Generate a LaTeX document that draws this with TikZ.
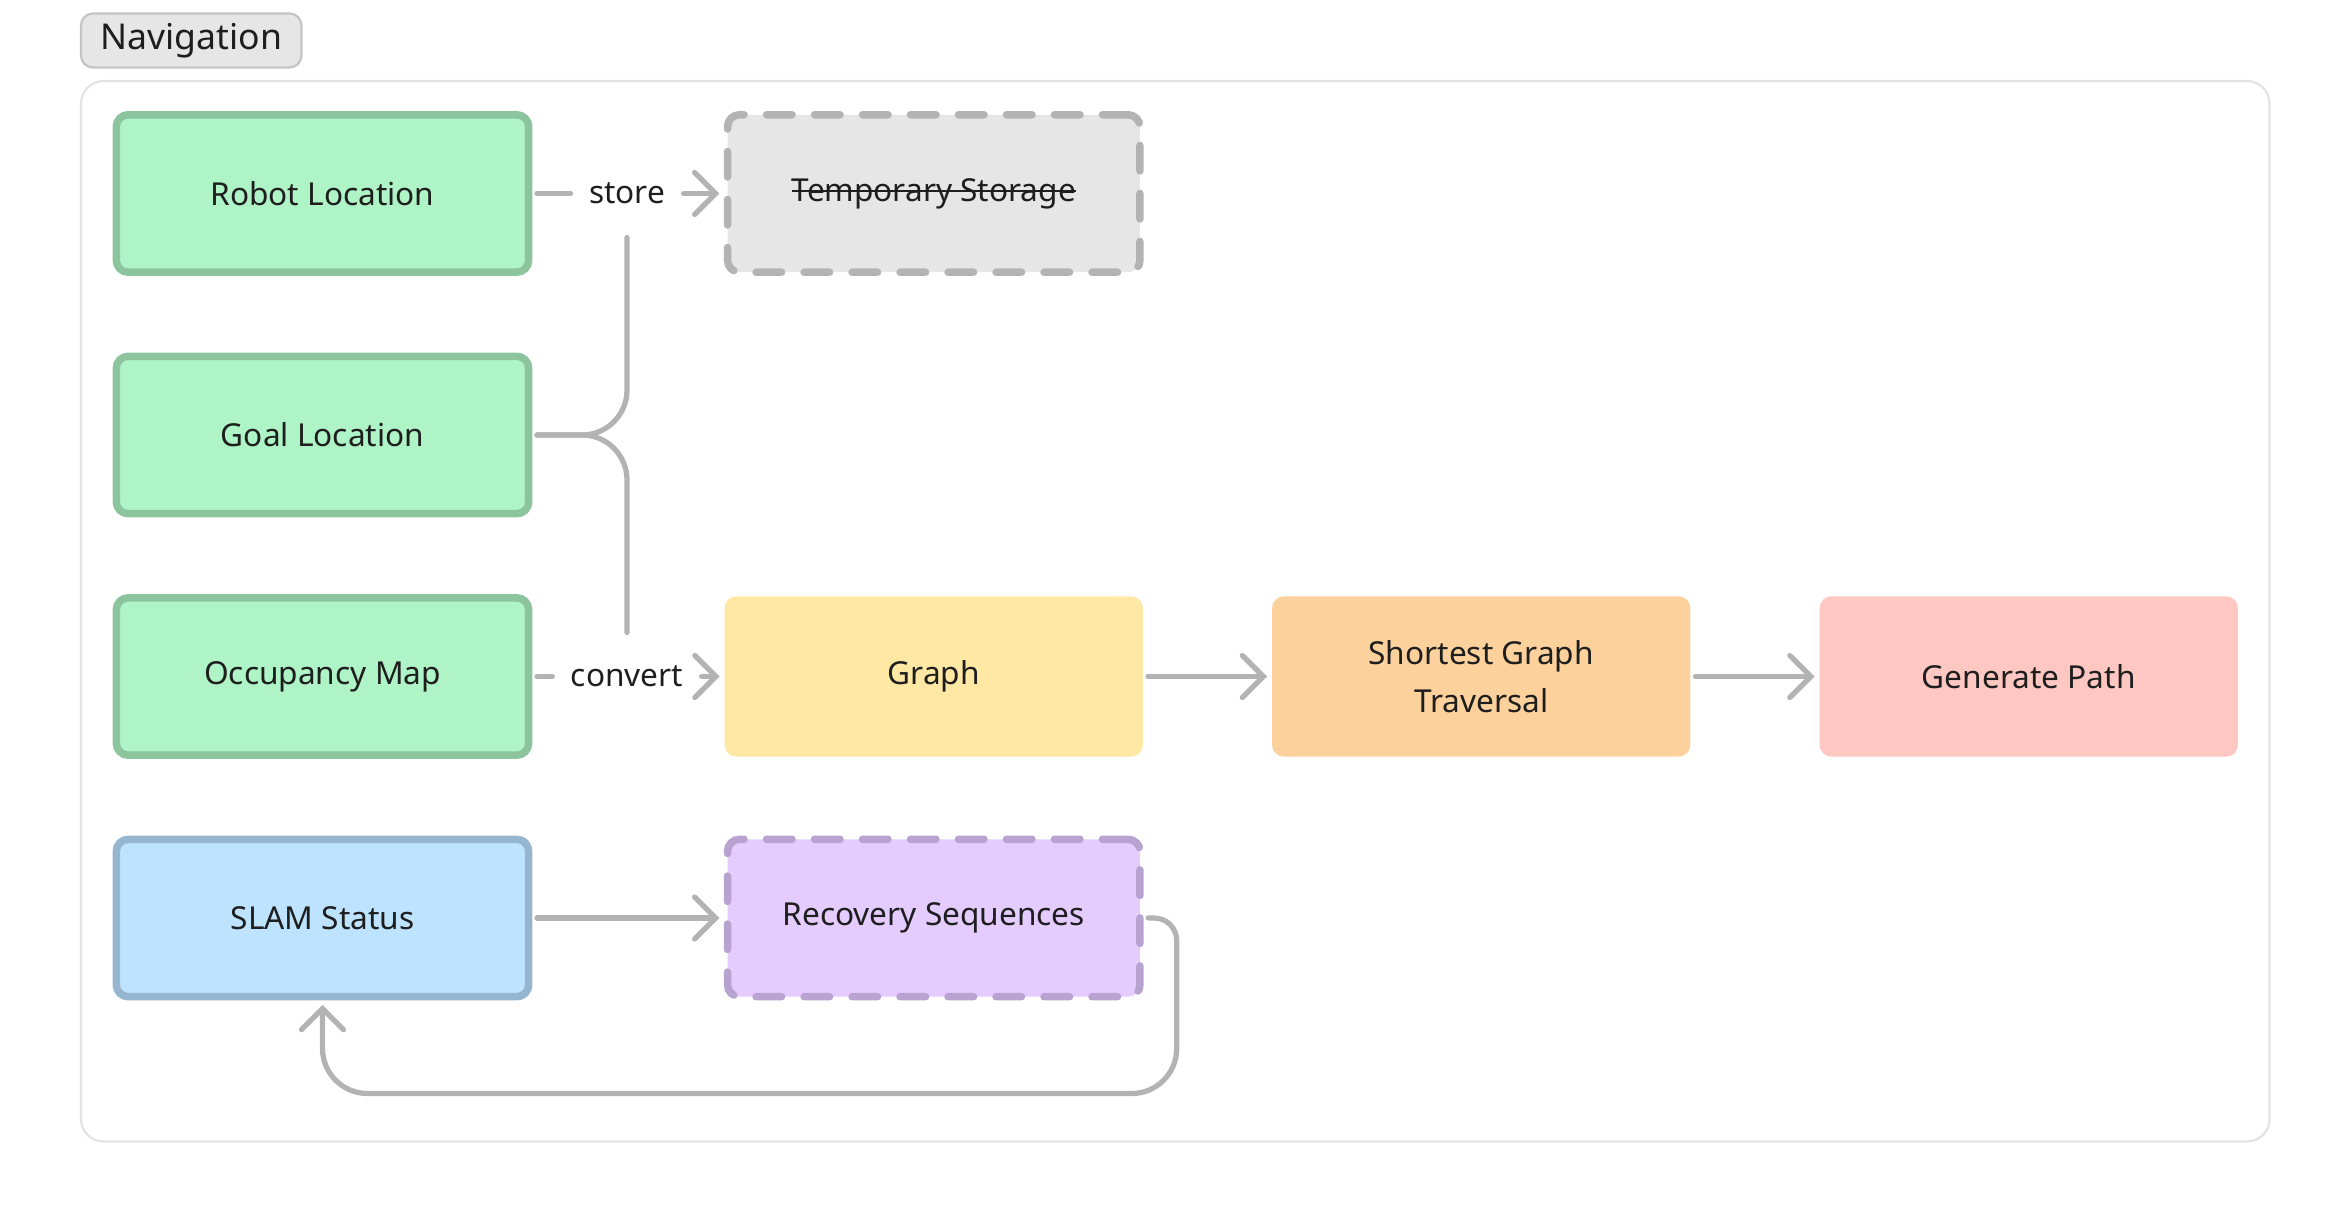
\documentclass[tikz,border=0pt]{standalone}
\usepackage{fontspec}
\setmainfont{Noto Sans}
\usepackage{xcolor}
\usepackage{tikz}
\usetikzlibrary{arrows.meta}

\newcommand\sttext[1]{\setbox0\hbox{#1}\rlap{\rule[0.3em]{\wd0}{0.065em}}\box0}

\definecolor{txt}{HTML}{1E1E1E}
\definecolor{lnk}{HTML}{B3B3B3}
\definecolor{frm}{HTML}{E3E3E3}
\definecolor{tagfill}{HTML}{E6E6E6}
\definecolor{tagline}{HTML}{C4C4C4}
\definecolor{grnfill}{HTML}{AFF4C6}
\definecolor{grnline}{HTML}{8CC49E}
\definecolor{bluefill}{HTML}{BDE3FF}
\definecolor{blueline}{HTML}{96B6CF}
\definecolor{grayfill}{HTML}{E6E6E6}
\definecolor{grayline}{HTML}{B3B3B3}
\definecolor{purfill}{HTML}{E4CCFF}
\definecolor{purline}{HTML}{B8A2CF}
\definecolor{yelfill}{HTML}{FFE8A3}
\definecolor{orgfill}{HTML}{FCD19C}
\definecolor{redfill}{HTML}{FFC7C2}

\begin{document}
\begin{tikzpicture}[x=0.02cm,y=-0.02cm,
  every node/.style={font=\fontsize{12}{18}\selectfont,text=txt},
  box/.style={rectangle,rounded corners=0.16cm,minimum width=5.5cm,minimum height=2.1cm,align=center,line width=0.1cm},
  flat/.style={rectangle,rounded corners=0.16cm,minimum width=5.58cm,minimum height=2.14cm,align=center},
  dashbox/.style={box,line cap=round,dash pattern=on 0.34cm off 0.3cm},
  lbl/.style={inner xsep=0.18cm,minimum height=1.04cm},
  tag/.style={rectangle,rounded corners=0.16cm,minimum width=2.94cm,minimum height=0.72cm,fill=tagfill,draw=tagline,line width=0.03cm,font=\fontsize{13.5}{16}\selectfont},
  link/.style={draw=lnk,line width=0.07cm,line cap=round,shorten <=0.06cm,shorten >=0.06cm},
  arr/.style={link,-{Straight Barb[length=0.28cm,width=0.56cm,line cap=round]}}]
            \useasboundingbox (0,0) rectangle (1557.33,810.67);
            \draw[frm,line width=0.03cm,rounded corners=0.3cm] (54,54) rectangle (1513,761);
            \node[tag] (ttl) at (127.5,27) {Navigation};
            \node[box,fill=grnfill,draw=grnline] (loc) at (215,129) {Robot Location};
            \node[box,fill=grnfill,draw=grnline] (goal) at (215,290) {Goal Location};
            \node[box,fill=grnfill,draw=grnline] (occ) at (215,451) {Occupancy Map};
            \node[box,fill=bluefill,draw=blueline] (slam) at (215,612) {SLAM Status};
            \node[dashbox,fill=grayfill,draw=grayline] (tmp) at (622.5,129) {\sttext{Temporary Storage}};
            \node[flat,fill=yelfill] (graph) at (622.5,451) {Graph};
            \node[flat,fill=orgfill] (sgt) at (987.5,451) {Shortest Graph\\Traversal};
            \node[flat,fill=redfill] (gen) at (1352.5,451) {Generate Path};
            \node[dashbox,fill=purfill,draw=purline] (rec) at (622.5,612) {Recovery Sequences};
            \node[lbl] (st) at (418,129) {store};
            \node[lbl] (cv) at (418,451) {convert};
              \draw[link] (loc) -- (st);
              \draw[arr] (st) -- (tmp);
              \draw[link,rounded corners=0.6cm] (goal.east) -| (st.south);
              \draw[link,rounded corners=0.6cm] (goal.east) -| (cv.north);
              \draw[link] (occ) -- (cv);
              \draw[arr] (cv) -- (graph);
              \draw[arr] (graph) -- (sgt);
              \draw[arr] (sgt) -- (gen);
              \draw[arr] (slam) -- (rec);
              \draw[arr] (rec.east) [rounded corners=0.3cm] -- ++(22,0) [rounded corners=0.6cm] -- ++(0,117) -| (slam.south);
            \end{tikzpicture}
\end{document}
